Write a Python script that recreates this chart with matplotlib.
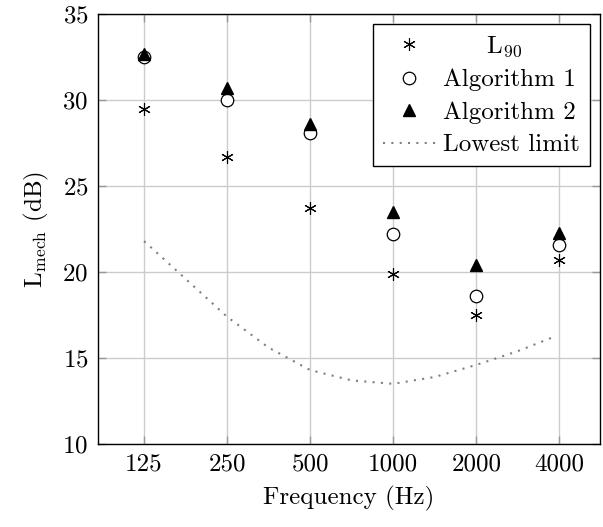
import numpy as np
import matplotlib
matplotlib.use("Agg")
import matplotlib.pyplot as plt

plt.rcParams['font.family'] = 'serif'
plt.rcParams['font.serif'] = ['cmr10', 'DejaVu Serif']
plt.rcParams['mathtext.fontset'] = 'cm'
plt.rcParams['axes.formatter.use_mathtext'] = True

# Data
freq = [125, 250, 500, 1000, 2000, 4000]
tick_labels = ['125', '250', '500', '1000', '2000', '4000']
l90 = [29.5, 26.7, 23.7, 19.9, 17.5, 20.7]
alg1 = [32.5, 30.0, 28.1, 22.2, 18.6, 21.6]
alg2 = [32.7, 30.7, 28.6, 23.5, 20.4, 22.3]

limit_freq = [125, 177, 250, 354, 500, 707, 1000, 1414, 2000, 2828, 3780]
limit_val = [21.8, 19.6, 17.4, 15.6, 14.3, 13.7, 13.5, 13.9, 14.6, 15.4, 16.2]

fig = plt.figure(figsize=(6.03, 5.27), dpi=100)
ax = fig.add_axes([0.1625, 0.1575, 0.8325, 0.8155])

ax.plot(freq, l90, linestyle='none', marker=(6, 2, 0), markersize=9,
        color='black', markeredgewidth=0.8, label='$\\qquad$L$_{90}$', zorder=3)
ax.plot(freq, alg1, linestyle='none', marker='o', markersize=9,
        markerfacecolor='white', markeredgecolor='black', markeredgewidth=0.9,
        label='Algorithm 1', zorder=3)
ax.plot(freq, alg2, linestyle='none', marker='^', markersize=8,
        color='black', label='Algorithm 2', zorder=4)
ax.plot(limit_freq, limit_val, linestyle=(0, (1, 3)), color='gray',
        linewidth=1.5, label='Lowest limit', zorder=2)

ax.set_xscale('log', base=2)
ax.set_xlim(125 * 2 ** -0.555, 4000 * 2 ** 0.49)
ax.set_ylim(10, 35)
ax.set_xticks(freq)
ax.set_xticklabels(tick_labels)
ax.minorticks_off()
ax.set_yticks([10, 15, 20, 25, 30, 35])

ax.grid(True, color='#cccccc', linewidth=1)
ax.set_axisbelow(True)
ax.tick_params(direction='in', length=6, width=1, color='#999999',
               top=True, right=True, labelsize=18, pad=7)
for s in ax.spines.values():
    s.set_linewidth(1)
    s.set_color('black')

ax.set_xlabel('Frequency (Hz)', fontsize=18, labelpad=7)
ax.set_ylabel('L$_{\\mathrm{mech}}$ (dB)', fontsize=18, labelpad=8)

leg = ax.legend(loc='upper right', fontsize=18, fancybox=False,
                edgecolor='black', framealpha=1, borderaxespad=0.4,
                handlelength=2.1, labelspacing=0.4, borderpad=0.4,
                handletextpad=0.3)
leg.get_frame().set_linewidth(1)

fig.savefig('out.png', dpi=100)
